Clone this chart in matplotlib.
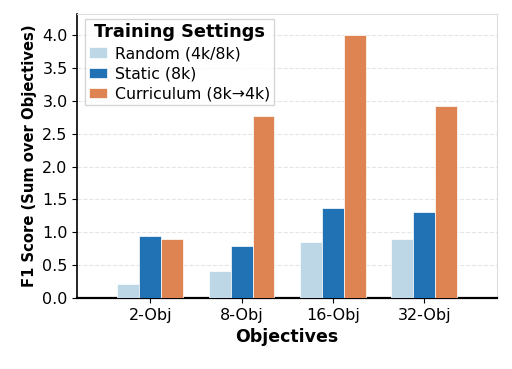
import numpy as np
import matplotlib.pyplot as plt

# ---------------------------- data ----------------------------
categories = ["2-Obj", "8-Obj", "16-Obj", "32-Obj"]
random_vals = [0.21, 0.42, 0.86, 0.90]
static_vals = [0.95, 0.79, 1.37, 1.31]
curriculum_vals = [0.90, 2.77, 4.00, 2.92]

series_names = ["Random (4k/8k)", "Static (8k)", "Curriculum (8k\u21924k)"]
series_colors = ["#bdd7e7", "#2171b5", "#dd8452"]


def plot_chart():
    fig, ax = plt.subplots(figsize=(5.12, 3.69), dpi=100)
    x = np.arange(len(categories))
    width = 0.24
    all_vals = [random_vals, static_vals, curriculum_vals]
    for i, (vals, name, color) in enumerate(zip(all_vals, series_names, series_colors)):
        ax.bar(x + (i - 1) * width, vals, width, label=name, color=color,
               edgecolor="white", linewidth=0.5, zorder=3)

    ax.set_xticks(x)
    ax.set_xticklabels(categories, fontsize=11.5)
    ax.tick_params(axis="y", labelsize=11.5)
    ax.set_yticks(np.arange(0, 4.01, 0.5))
    ax.set_ylim(0, max(curriculum_vals) * 1.08)
    ax.set_xlim(-0.8, 3.8)
    ax.set_xlabel("Objectives", fontsize=12.5, fontweight="bold")
    ax.set_ylabel("F1 Score (Sum over Objectives)", fontsize=10.6, fontweight="bold")
    ax.yaxis.grid(True, linestyle="--", color="#e5e5e5", linewidth=0.8, zorder=0)

    for side in ["top", "right"]:
        ax.spines[side].set_color("#dddddd")
    ax.spines["left"].set_linewidth(1.2)
    ax.spines["bottom"].set_linewidth(1.6)

    leg = ax.legend(title="Training Settings", loc="upper left", fontsize=11.3,
                    title_fontproperties={"weight": "bold", "size": 12.8},
                    handlelength=1.15, handleheight=0.65, handletextpad=0.5,
                    borderpad=0.25, labelspacing=0.33, fancybox=False,
                    edgecolor="#cccccc", bbox_to_anchor=(0.0, 1.01))
    leg.get_frame().set_linewidth(1.0)

    fig.subplots_adjust(left=0.151, right=0.971, top=0.962, bottom=0.192)
    fig.savefig("out.png", dpi=100)


if __name__ == "__main__":
    plot_chart()
